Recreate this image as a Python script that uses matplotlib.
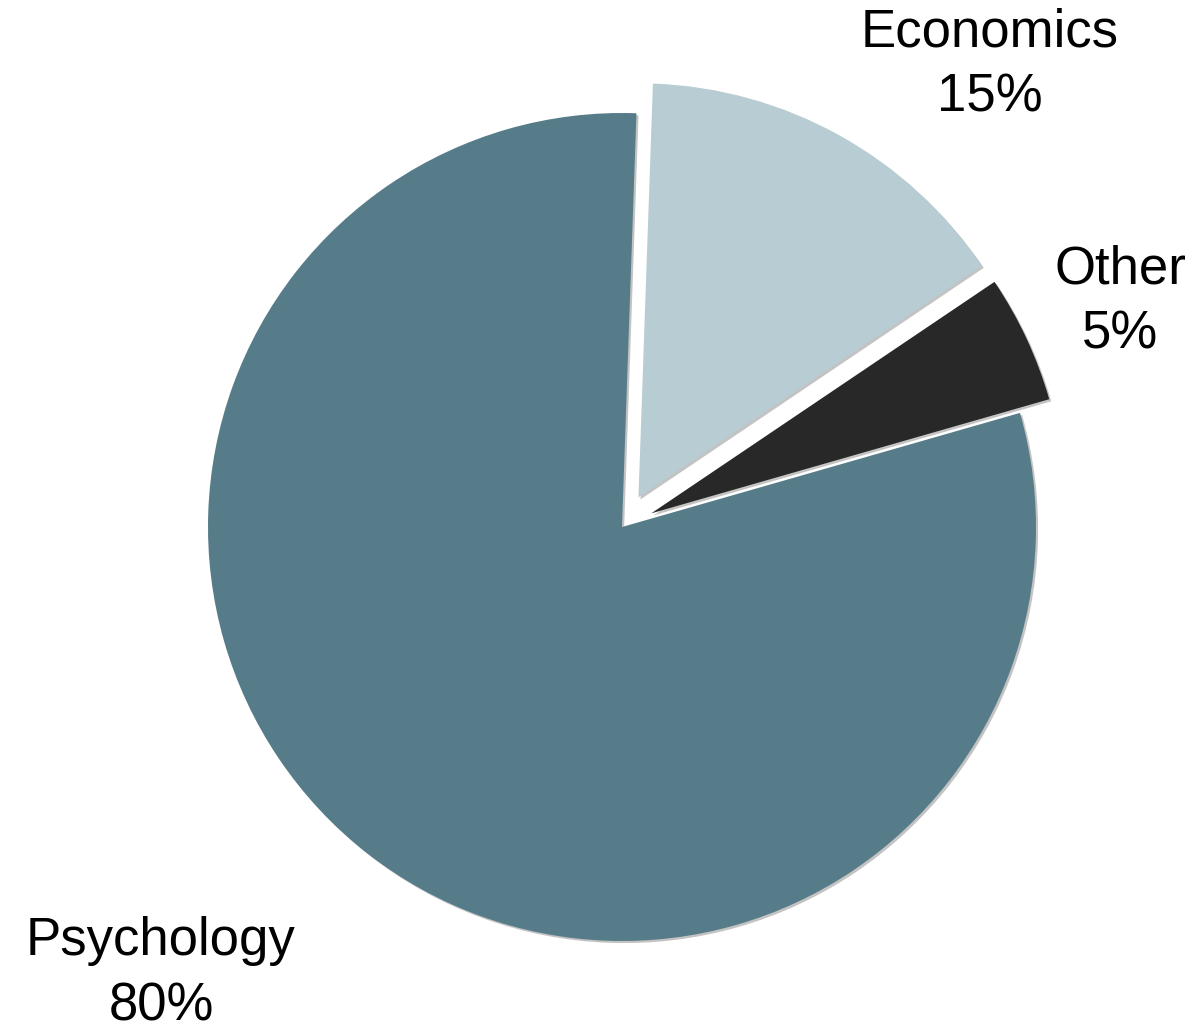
import matplotlib.pyplot as plt
import matplotlib.patheffects as pe

plt.rcParams['font.family'] = ['Liberation Sans', 'DejaVu Sans']

# slices, drawn counter-clockwise from near 12 o'clock
fields = ["Psychology", "Other", "Economics"]
shares = [80, 5, 15]
colors = ["#577c89", "#282828", "#b8ccd3"]
explode = [0.0, 0.078, 0.082]   # fraction of the radius

# label anchor points (pixel coords, origin bottom-left)
label_pos = {
    "Psychology": (161, 59),
    "Other": (1120, 731),
    "Economics": (990, 968),
}

R = 414

fig = plt.figure(figsize=(12, 10.33), dpi=100)
ax = fig.add_axes([0, 0, 1, 1])

shadow = [pe.SimplePatchShadow(offset=(1.5, -1.5), shadow_rgbFace="#888888", alpha=0.5),
          pe.Normal()]

# pie() offsets exploded wedges in data units, so scale by the radius
wedges, _ = ax.pie(
    shares,
    colors=colors,
    explode=[e * R for e in explode],
    startangle=88,
    counterclock=True,
    center=(622, 506),
    radius=R,
    frame=True,
    wedgeprops=dict(linewidth=0, path_effects=shadow),
)

for name, val in zip(fields, shares):
    x, y = label_pos[name]
    ax.text(x, y, f"{name}\n{val}%", ha="center", va="center",
            fontsize=38, linespacing=1.4, color="black")

ax.set_xlim(0, 1200)
ax.set_ylim(0, 1033)
ax.set_aspect("equal")
ax.axis("off")

fig.savefig("out.png", dpi=100, facecolor="white")
